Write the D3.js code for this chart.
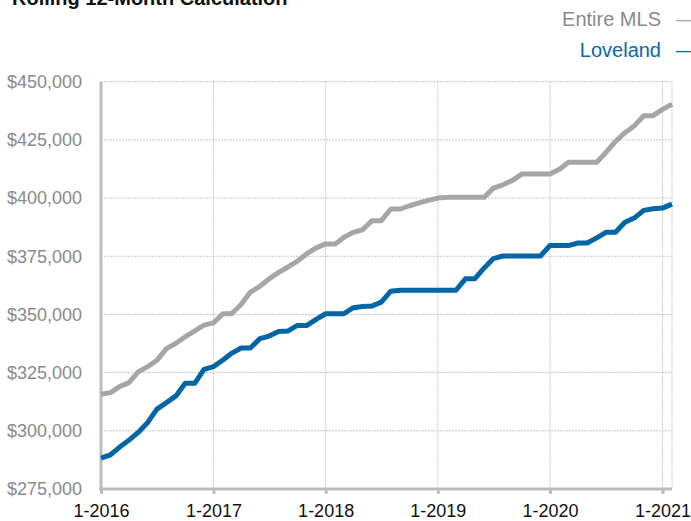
<!DOCTYPE html>
<html>
<head>
<meta charset="utf-8">
<script src="https://cdn.jsdelivr.net/npm/d3@7"></script>
<style>
  body { margin: 0; background: #fff; }
  svg { display: block; font-family: "Liberation Sans", Helvetica, Arial, sans-serif; }
</style>
</head>
<body>
<svg id="chart"></svg>
<script>
var width = 691, height = 521;
var margin = {top: 81.7, right: 19, bottom: 32, left: 101};

// monthly, Jan 2016 .. Feb 2021
var months = d3.timeMonth.range(new Date(2016, 0, 1), new Date(2021, 2, 1));
var entireMLS = [
  315700, 316400, 319000, 320700, 325300, 327600, 330300, 335300, 337600, 340400, 342900, 345400,
  346400, 350300, 350300, 354300, 359600, 362100, 365300, 368100, 370400, 372900, 376100, 378600,
  380300, 380300, 383100, 385300, 386400, 390300, 390300, 395300, 395300, 396700, 397900, 399000,
  400000, 400300, 400300, 400300, 400300, 400300, 404300, 405700, 407600, 410300, 410300, 410300,
  410300, 412400, 415400, 415400, 415400, 415400, 419600, 424300, 428100, 431000, 435400, 435400,
  438100, 440300
];
var loveland = [
  288300, 289700, 292900, 296000, 299300, 303600, 309300, 312100, 315000, 320400, 320400, 326400,
  327600, 330400, 333300, 335600, 335600, 339600, 340700, 342700, 342900, 345300, 345300, 347900,
  350300, 350300, 350300, 352900, 353400, 353600, 355300, 360000, 360400, 360400, 360400, 360400,
  360400, 360400, 360400, 365300, 365300, 370000, 374000, 375100, 375100, 375100, 375100, 375100,
  379600, 379600, 379600, 380700, 380700, 382900, 385300, 385300, 389600, 391400, 394700, 395400,
  395700, 397400
];
var yTicks = [275000, 300000, 325000, 350000, 375000, 400000, 425000, 450000];
var xTicks = [new Date(2016,0,1), new Date(2017,0,1), new Date(2018,0,1), new Date(2019,0,1), new Date(2020,0,1), new Date(2021,0,1)];
var seriesNames = ["Entire MLS", "Loveland"];
var seriesColors = ["#a6a6a6", "#0066a5"];
var labelColors = ["#8a8a8a", "#0a68a6"];

var svg = d3.select("#chart")
    .attr("width", width)
    .attr("height", height);

var x = d3.scaleTime()
    .domain([months[0], months[months.length-1]])
    .range([margin.left, width - margin.right]);
var y = d3.scaleLinear()
    .domain([275000, 450000])
    .range([height - margin.bottom, margin.top]);

// title (cut off at the top)
svg.append("text")
    .attr("x", 12)
    .attr("y", 5)
    .style("font-size", "20px")
    .style("font-weight", "bold")
    .style("fill", "#111")
    .text("Rolling 12-Month Calculation");

// legend
seriesNames.forEach(function(name, i){
    var ly = 26 + i*31;
    svg.append("text")
        .attr("x", 661).attr("y", ly)
        .attr("text-anchor", "end")
        .style("font-size", "20px")
        .style("fill", labelColors[i])
        .text(name);
    svg.append("text")
        .attr("x", 676).attr("y", ly)
        .style("font-size", "20px")
        .style("fill", seriesColors[i])
        .text("\u2014");
});

// gridlines
svg.append("g")
    .selectAll("line")
    .data(yTicks.slice(1))
    .enter().append("line")
    .attr("x1", x.range()[0]).attr("x2", x.range()[1])
    .attr("y1", function(d){ return y(d); })
    .attr("y2", function(d){ return y(d); })
    .style("stroke", "#c8c8c8")
    .style("stroke-width", 1)
    .style("stroke-dasharray", "2,1");

svg.append("g")
    .selectAll("line")
    .data(xTicks.slice(1).concat([months[months.length-1]]))
    .enter().append("line")
    .attr("x1", function(d){ return x(d); })
    .attr("x2", function(d){ return x(d); })
    .attr("y1", y.range()[1]).attr("y2", y.range()[0])
    .style("stroke", "#c8c8c8")
    .style("stroke-width", 1)
    .style("stroke-dasharray", "2,1");

// x axis
var xAxis = d3.axisBottom(x)
    .tickValues(xTicks)
    .tickFormat(function(d){ return "1-" + d.getFullYear(); })
    .tickSize(5)
    .tickPadding(10);
var gx = svg.append("g")
    .attr("transform", "translate(0," + y.range()[0] + ")")
    .call(xAxis);
gx.select(".domain").remove();
gx.selectAll(".tick line").style("stroke", "#bdbdbd").style("stroke-width", 3);
gx.selectAll(".tick text")
    .style("font-size", "18px")
    .style("fill", "#111")
    .style("font-family", "\"Liberation Sans\", Helvetica, Arial, sans-serif");

// y axis labels
var yAxis = d3.axisLeft(y)
    .tickValues(yTicks)
    .tickFormat(d3.format("$,"))
    .tickSize(0)
    .tickPadding(19);
var gy = svg.append("g")
    .attr("transform", "translate(" + x.range()[0] + ",0)")
    .call(yAxis);
gy.select(".domain").remove();
gy.selectAll(".tick text")
    .style("font-size", "18px")
    .style("fill", "#8a8a8a")
    .style("font-family", "\"Liberation Sans\", Helvetica, Arial, sans-serif");

// axis lines
svg.append("line")
    .attr("x1", x.range()[0]).attr("x2", x.range()[0])
    .attr("y1", y.range()[1]).attr("y2", y.range()[0] + 1.5)
    .style("stroke", "#bdbdbd").style("stroke-width", 3);
svg.append("line")
    .attr("x1", x.range()[0] - 1.5).attr("x2", x.range()[1])
    .attr("y1", y.range()[0]).attr("y2", y.range()[0])
    .style("stroke", "#bdbdbd").style("stroke-width", 3);

// lines
var line = d3.line()
    .x(function(d, i){ return x(months[i]); })
    .y(function(d){ return y(d); });

[entireMLS, loveland].forEach(function(vals, i){
    svg.append("path")
        .datum(vals)
        .attr("d", line)
        .style("fill", "none")
        .style("stroke", seriesColors[i])
        .style("stroke-width", 5)
        .style("stroke-linejoin", "round");
});
</script>
</body>
</html>
